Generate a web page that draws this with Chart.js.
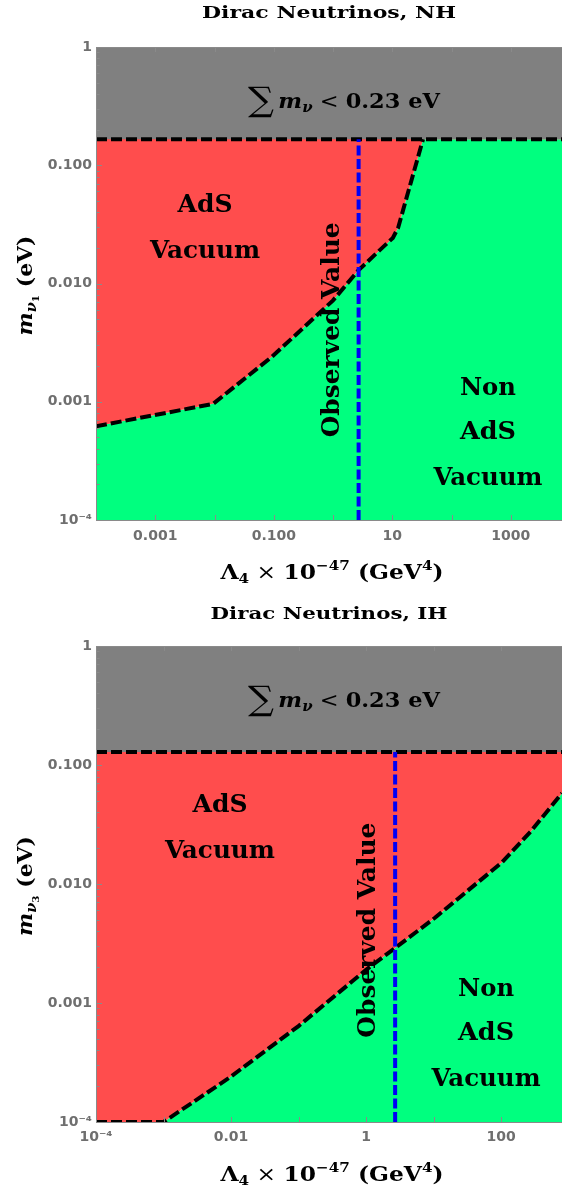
<!DOCTYPE html>
<html>
<head>
<meta charset="utf-8">
<script src="https://cdn.jsdelivr.net/npm/chart.js@4.4.1/dist/chart.umd.min.js"></script>
<style>
  html, body { margin: 0; padding: 0; background: #fff; }
  canvas { display: block; }
</style>
</head>
<body>
<canvas id="chart_nh" width="562" height="590"></canvas>
<canvas id="chart_ih" width="562" height="599"></canvas>
<script>
// boundary between AdS / non AdS vacuum
const lambdaNH = [1e-4, 0.0095, 0.093, 1, 2.7, 10.2, 12.5, 33];
const massNH = [6.2e-4, 9.6e-4, 0.0024, 0.0072, 0.013, 0.0243, 0.0295, 0.166];
const capNH = 0.166;

const lambdaIH = [1e-4, 0.001, 0.0094, 0.1, 1, 2.7, 10.5, 102, 274, 800];
const massIH = [1e-4, 1e-4, 2.35e-4, 6.4e-4, 0.0019, 0.0029, 0.0052, 0.0151, 0.0275, 0.058];
const capIH = 0.1286;

const observedLambda = 2.7;

const xRangeNH = [1e-4, 7300];
const xRangeIH = [1e-4, 800];
const yRange = [1e-4, 1];

const xTicksNH = [0.001, 0.1, 10, 1000];
const xLabelsNH = ["0.001", "0.100", "10", "1000"];
const xTicksIH = [1e-4, 0.01, 1, 100];
const xLabelsIH = ["10\u207B\u2074", "0.01", "1", "100"];
const yTicks = [1e-4, 0.001, 0.01, 0.1, 1];
const yLabels = ["10\u207B\u2074", "0.001", "0.010", "0.100", "1"];

const GREY = "rgb(128,128,128)";
const RED = "rgb(255,77,77)";
const GREEN = "rgb(0,255,127)";
const BLUE = "rgb(0,0,245)";
const AXIS = "#8a8a8a";
const SERIF = '"DejaVu Serif", "Liberation Serif", serif';

function serifFont(style, size) {
  const w = { r: "normal", b: "bold", i: "italic", bi: "italic bold" }[style];
  return `${w} ${size}px ${SERIF}`;
}

// draws a piece of mixed text (sub/superscripts) centred on cx, cy, fitted to width w
function drawRich(ctx, item, cx, cy) {
  ctx.save();
  ctx.translate(cx, cy);
  if (item.rot) ctx.rotate(item.rot);
  let natural = 0;
  item.parts.forEach((p) => {
    ctx.font = serifFont(p[1], p[2]);
    natural += ctx.measureText(p[0]).width;
  });
  ctx.scale(item.w / natural, 1);
  ctx.fillStyle = "#000";
  ctx.textAlign = "left";
  ctx.textBaseline = "alphabetic";
  const base = item.size * 0.365;
  let x = -natural / 2;
  item.parts.forEach((p) => {
    ctx.font = serifFont(p[1], p[2]);
    ctx.fillText(p[0], x, base + (p[3] || 0));
    x += ctx.measureText(p[0]).width;
  });
  ctx.restore();
}

const fx = (a, f) => a.left + f * (a.right - a.left);
const fy = (a, f) => a.top + f * (a.bottom - a.top);
const mid = (a) => (a.left + a.right) / 2;

const sumParts = [
  ["\u2211", "r", 34, 3],
  ["\u2009", "r", 21],
  ["m", "bi", 21],
  ["\u03BD", "bi", 14, 4],
  [" < ", "r", 21],
  ["0.23 eV", "b", 21],
];
const xTitleParts = [
  ["\u039B", "b", 20],
  ["4", "b", 13, 4],
  [" \u00D7 ", "r", 20],
  ["10", "b", 20],
  ["\u221247", "b", 13, -9],
  [" (GeV", "b", 20],
  ["4", "b", 13, -9],
  [")", "b", 20],
];

function commonTexts(title, titleW, index, titleGap, obsY) {
  return [
    { parts: [[title, "b", 17]], size: 17, w: titleW, at: (a) => [mid(a), a.top - titleGap] },
    { parts: sumParts, size: 21, w: 192, at: (a) => [fx(a, 0.532), fy(a, 0.112)] },
    { parts: [["Observed Value", "b", 25]], size: 25, w: 215, rot: -Math.PI / 2,
      at: (a, x) => [x.getPixelForValue(observedLambda) - 29, fy(a, obsY)] },
    { parts: [["m", "bi", 21], ["\u03BD", "bi", 14, 4], [index, "b", 10, 7], [" (eV)", "b", 21]],
      size: 21, w: 100, rot: -Math.PI / 2, at: (a) => [24, (a.top + a.bottom) / 2 + 2] },
    { parts: xTitleParts, size: 20, w: 223, at: (a) => [mid(a) + 3, a.bottom + 52] },
  ];
}

function regionTexts(adsX, adsY, nonX, nonY) {
  return [
    { parts: [["AdS", "b", 24]], size: 24, w: 55, at: (a) => [fx(a, adsX), fy(a, adsY)] },
    { parts: [["Vacuum", "b", 24]], size: 24, w: 110, at: (a) => [fx(a, adsX), fy(a, adsY + 0.097)] },
    { parts: [["Non", "b", 24]], size: 24, w: 56, at: (a) => [fx(a, nonX), fy(a, nonY)] },
    { parts: [["AdS", "b", 24]], size: 24, w: 56, at: (a) => [fx(a, nonX), fy(a, nonY + 0.094)] },
    { parts: [["Vacuum", "b", 24]], size: 24, w: 109, at: (a) => [fx(a, nonX), fy(a, nonY + 0.19)] },
  ];
}

// Mathematica style ticks, drawn inside the frame
const frameTicks = {
  id: "frameTicks",
  afterDatasetsDraw(chart) {
    const { ctx, chartArea: a, scales: { x, y } } = chart;
    ctx.save();
    ctx.strokeStyle = AXIS;
    ctx.lineWidth = 1;
    ctx.beginPath();
    ctx.moveTo(a.left, a.top + 0.5);
    ctx.lineTo(a.right, a.top + 0.5);
    for (let e = Math.floor(Math.log10(y.min)); e <= Math.ceil(Math.log10(y.max)); e++) {
      for (let k = 1; k <= 9; k++) {
        const v = k * Math.pow(10, e);
        if (v < y.min * 0.999 || v > y.max * 1.001) continue;
        const py = Math.round(y.getPixelForValue(v)) + 0.5;
        ctx.moveTo(a.left, py);
        ctx.lineTo(a.left + (k === 1 ? 6 : 3.5), py);
      }
    }
    for (let e = Math.ceil(Math.log10(x.min)); e <= Math.floor(Math.log10(x.max)); e++) {
      const px = Math.round(x.getPixelForValue(Math.pow(10, e))) + 0.5;
      ctx.moveTo(px, a.bottom);
      ctx.lineTo(px, a.bottom - 5);
      ctx.moveTo(px, a.top);
      ctx.lineTo(px, a.top + 5);
    }
    ctx.stroke();
    ctx.restore();
  },
};

function makeChart(canvasId, cfg) {
  const boundary = cfg.lambda.map((l, i) => ({ x: l, y: cfg.mass[i] }));
  // the shaded regions close along the cap out to the right edge
  const region = boundary.slice();
  if (cfg.lambda[cfg.lambda.length - 1] < cfg.xRange[1]) {
    region.push({ x: cfg.xRange[1], y: cfg.cap });
  }
  const capLine = [{ x: cfg.xRange[0], y: cfg.cap }, { x: cfg.xRange[1], y: cfg.cap }];
  const observed = [{ x: observedLambda, y: yRange[0] }, { x: observedLambda, y: cfg.cap }];
  const tickFont = { family: '"DejaVu Sans", sans-serif', weight: "bold", size: 14 };

  const textPlugin = {
    id: "textPlugin",
    afterDatasetsDraw(chart) {
      const { ctx, chartArea: a, scales } = chart;
      cfg.texts.forEach((item) => {
        const pos = item.at(a, scales.x);
        drawRich(ctx, item, pos[0], pos[1]);
      });
    },
  };

  return new Chart(document.getElementById(canvasId), {
    type: "line",
    data: {
      datasets: [
        { data: observed, borderColor: BLUE, borderWidth: 4, borderDash: [10, 3.5], fill: false },
        { data: boundary, borderColor: "#000", borderWidth: 4, borderDash: [11, 4], fill: false },
        { data: capLine, borderColor: "#000", borderWidth: 4, borderDash: [11, 4], fill: false },
        { data: capLine, borderColor: "transparent", borderWidth: 0, fill: "end", backgroundColor: GREY },
        { data: region, borderColor: "transparent", borderWidth: 0, fill: "end", backgroundColor: RED },
        { data: region, borderColor: "transparent", borderWidth: 0, fill: "start", backgroundColor: GREEN },
      ],
    },
    options: {
      responsive: false,
      animation: false,
      devicePixelRatio: 1,
      layout: { padding: { top: cfg.areaTop, left: 0, right: 0, bottom: 0 } },
      elements: { point: { radius: 0, hoverRadius: 0 }, line: { tension: 0 } },
      plugins: {
        legend: { display: false },
        tooltip: { enabled: false },
        title: { display: false },
      },
      scales: {
        x: {
          type: "logarithmic",
          min: cfg.xRange[0],
          max: cfg.xRange[1],
          afterBuildTicks: (s) => { s.ticks = cfg.xTicks.map((v) => ({ value: v })); },
          afterFit: (s) => { s.height = cfg.xAxisHeight; },
          grid: { display: false, drawTicks: false },
          border: { display: true, color: AXIS, width: 1, z: 1 },
          ticks: {
            autoSkip: false, maxRotation: 0, minRotation: 0,
            padding: cfg.xTickPad, color: "#6f6f6f", font: tickFont,
            callback: (v) => cfg.xLabels[cfg.xTicks.indexOf(v)],
          },
        },
        y: {
          type: "logarithmic",
          min: yRange[0],
          max: yRange[1],
          afterBuildTicks: (s) => { s.ticks = yTicks.map((v) => ({ value: v })); },
          afterFit: (s) => { s.width = 96; },
          grid: { display: false, drawTicks: false },
          border: { display: true, color: AXIS, width: 1, z: 1 },
          ticks: {
            autoSkip: false, padding: 4, color: "#6f6f6f", font: tickFont,
            callback: (v) => yLabels[yTicks.indexOf(v)],
          },
        },
      },
    },
    plugins: [frameTicks, textPlugin],
  });
}

makeChart("chart_nh", {
  lambda: lambdaNH, mass: massNH, cap: capNH,
  xRange: xRangeNH, xTicks: xTicksNH, xLabels: xLabelsNH,
  areaTop: 47, xAxisHeight: 70, xTickPad: 8,
  texts: commonTexts("Dirac Neutrinos, NH", 254, "1", 35, 0.598).concat(regionTexts(0.234, 0.330, 0.841, 0.717)),
});

makeChart("chart_ih", {
  lambda: lambdaIH, mass: massIH, cap: capIH,
  xRange: xRangeIH, xTicks: xTicksIH, xLabels: xLabelsIH,
  areaTop: 56, xAxisHeight: 67, xTickPad: 7,
  texts: commonTexts("Dirac Neutrinos, IH", 237, "3", 33, 0.597).concat(regionTexts(0.266, 0.330, 0.837, 0.716)),
});
</script>
</body>
</html>
